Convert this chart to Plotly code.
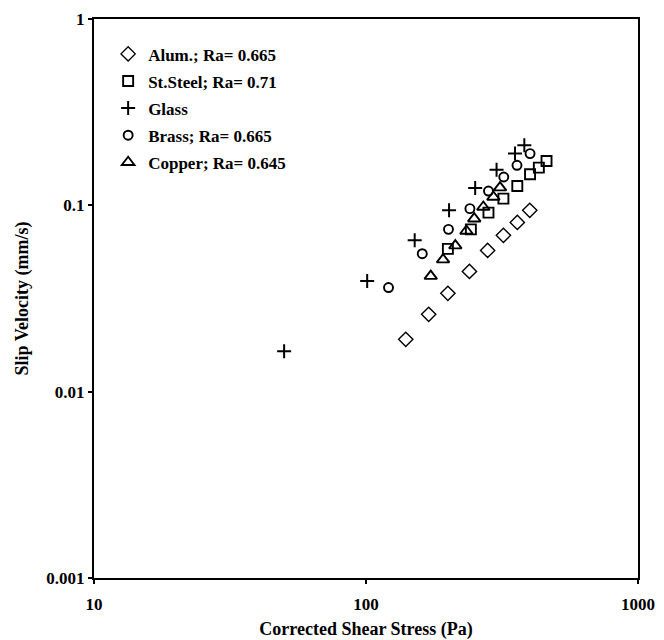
import plotly.graph_objects as go

# ---- data ----
alum_x = [140, 170, 200, 240, 280, 320, 360, 400]
alum_y = [0.0191, 0.0260, 0.0337, 0.0442, 0.0573, 0.0690, 0.0810, 0.0940]

steel_x = [200, 243, 282, 320, 360, 401, 432, 461]
steel_y = [0.0584, 0.0743, 0.0914, 0.1086, 0.1270, 0.1467, 0.1593, 0.1730]

glass_x = [50, 101, 151, 202, 252, 302, 353, 382]
glass_y = [0.0165, 0.0392, 0.0649, 0.0940, 0.1239, 0.1554, 0.1895, 0.2100]

brass_x = [121, 161, 201, 241, 282, 321, 359, 401]
brass_y = [0.0362, 0.0550, 0.0743, 0.0960, 0.1193, 0.1419, 0.1640, 0.1895]

copper_x = [173, 192, 213, 234, 250, 270, 294, 311]
copper_y = [0.0417, 0.0511, 0.0608, 0.0728, 0.0848, 0.0980, 0.1108, 0.1245]

names = ["Alum.; Ra= 0.665", "St.Steel; Ra= 0.71", "Glass",
         "Brass; Ra= 0.665", "Copper; Ra= 0.645"]

x_tickvals = [10, 100, 1000]
x_ticktext = ["10", "100", "1000"]
y_tickvals = [1, 0.1, 0.01, 0.001]
y_ticktext = ["1", "0.1", "0.01", "0.001"]

FONT = "Liberation Serif"

series = [
    (alum_x, alum_y, "diamond-open", 11, 1.4),
    (steel_x, steel_y, "square-open", 10, 1.9),
    (glass_x, glass_y, "cross-thin", 10, 2.0),
    (brass_x, brass_y, "circle-open", 9, 1.9),
    (copper_x, copper_y, "triangle-up-open", 11, 1.9),
]

fig = go.Figure()
for i, ((xs, ys, sym, sz, lw), nm) in enumerate(zip(series, names)):
    fig.add_trace(go.Scatter(
        x=xs, y=ys, mode="markers", name=nm, legendgroup=f"g{i}",
        marker=dict(symbol=sym, size=sz, color="black",
                    line=dict(color="black", width=lw)),
    ))

axis_common = dict(
    type="log", showgrid=False, zeroline=False, automargin=False,
    showline=True, linecolor="black", linewidth=2, mirror=True,
    ticks="outside", ticklen=4, tickwidth=2, tickcolor="black",
    tickfont=dict(family=FONT, size=17, color="black", weight="bold"),
)

fig.update_xaxes(
    range=[1, 3], tickvals=x_tickvals, ticktext=x_ticktext,
    ticklabelstandoff=6,
    title=dict(text="Corrected Shear Stress (Pa)", standoff=9,
               font=dict(family=FONT, size=18, color="black", weight="bold")),
    **axis_common,
)
fig.update_yaxes(
    range=[-3, 0], tickvals=y_tickvals, ticktext=y_ticktext,
    title=dict(text="Slip Velocity (mm/s)", standoff=13,
               font=dict(family=FONT, size=18, color="black", weight="bold")),
    **axis_common,
)

fig.update_layout(
    width=664, height=640,
    margin=dict(l=94, r=26, t=19, b=62),
    paper_bgcolor="white", plot_bgcolor="white",
    showlegend=True,
    legend=dict(
        x=0.026, y=0.969, xanchor="left", yanchor="top",
        bgcolor="rgba(0,0,0,0)", borderwidth=0,
        font=dict(family=FONT, size=17, color="black", weight="bold"),
        tracegroupgap=2, itemwidth=30,
    ),
)

fig.write_html("out.html")
